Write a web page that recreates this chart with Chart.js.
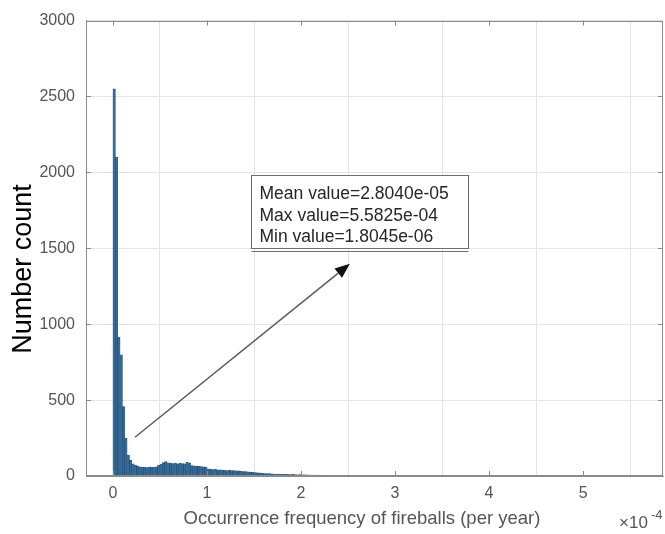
<!DOCTYPE html>
<html>
<head>
<meta charset="utf-8">
<script src="https://cdn.jsdelivr.net/npm/chart.js@4.4.1/dist/chart.umd.min.js"></script>
<style>
  html, body { margin: 0; padding: 0; background: #ffffff; }
  #wrap { width: 665px; height: 534px; }
</style>
</head>
<body>
<div id="wrap"><canvas id="c" width="665" height="534"></canvas></div>
<script>
// ---- data (x in units of 1e-4 per year) ----
const binWidth = 0.025;          // histogram bin width (×1e-4)
const counts = [
  2550, 2100, 915, 797, 457, 248, 137, 102, 80, 70, 65, 60, 58,
  57, 55, 58, 56, 57, 60,
  72, 78,
  88, 94,
  86, 84, 82, 85, 80, 83, 81, 79,
  90, 86,
  68, 66, 64, 65, 62,
  60, 59,
  46, 44, 42, 45, 41, 40,
  38, 37, 36, 38, 35, 36, 34, 33, 31,
  29, 28, 27, 26,
  23, 22, 21, 20,
  17, 16, 15, 15, 14, 13,
  12, 11, 12, 10, 11, 10, 9, 10, 9, 8, 9,
  8, 7, 7, 6, 6, 5, 6, 5, 4, 5,
  4, 4, 3, 4, 3, 3, 3, 2, 3, 2,
  3, 2, 2, 3, 2, 2, 1, 2, 1, 1, 2,
  1, 1, 2, 1, 0, 1, 1, 0, 1, 1, 0, 1, 0, 1, 1, 0, 0, 1, 0, 1,
  0, 1, 0, 0, 1, 0, 1, 0, 0, 1, 0, 0, 1, 0, 0, 0, 1, 0, 0, 1,
  0, 0, 1, 0, 0, 0, 1, 0, 0, 0, 0, 1, 0, 0, 0, 1, 0, 0, 0, 0,
  1, 0, 0, 0, 0, 1, 0, 0, 0, 1, 0, 0, 0, 0, 1, 0, 0, 1, 0, 0,
  1, 0, 1, 0, 0, 1, 0, 0, 1, 0, 1, 0, 0, 1, 0, 1, 0, 0, 1, 0,
  0, 1, 0, 1, 0, 0, 1, 0, 1, 0, 0, 0, 1
];
const xTicks = [0, 1, 2, 3, 4, 5];
const yTicks = [0, 500, 1000, 1500, 2000, 2500, 3000];
const xTitle = 'Occurrence frequency of fireballs (per year)';
const yTitle = 'Number count';
const xExponent = ['\u00d710', '-4'];
const annotationLines = ['Mean value=2.8040e-05', 'Max value=5.5825e-04', 'Min value=1.8045e-06'];
// annotation anchors in data coordinates
const boxCorners = { x1: 1.468, y1: 1980, x2: 3.777, y2: 1503 };
const arrowFrom = { x: 0.234, y: 255 };
const arrowTo = { x: 2.52, y: 1399 };

const FONT = "'Liberation Sans', Arial, Helvetica, sans-serif";
const points = counts.map((c, i) => ({ x: (i + 0.5) * binWidth, y: c }));

const decorations = {
  id: 'decorations',
  afterDatasetsDraw(chart) {
    const { ctx, chartArea: a, scales } = chart;
    const xs = scales.x, ys = scales.y;
    ctx.save();
    // frame box
    ctx.strokeStyle = '#8a8a8a';
    ctx.lineWidth = 1;
    ctx.strokeRect(Math.round(a.left) + 0.5, Math.round(a.top) + 0.5,
                   Math.round(a.right - a.left) - 1, Math.round(a.bottom - a.top) - 1);
    // inward tick marks
    ctx.beginPath();
    xTicks.forEach(v => {
      const px = Math.round(xs.getPixelForValue(v)) + 0.5;
      ctx.moveTo(px, a.bottom); ctx.lineTo(px, a.bottom - 5);
      ctx.moveTo(px, a.top); ctx.lineTo(px, a.top + 5);
    });
    yTicks.forEach(v => {
      const py = Math.round(ys.getPixelForValue(v)) + 0.5;
      ctx.moveTo(a.left, py); ctx.lineTo(a.left + 5, py);
      ctx.moveTo(a.right, py); ctx.lineTo(a.right - 5, py);
    });
    ctx.stroke();

    // arrow
    const x0 = xs.getPixelForValue(arrowFrom.x), y0 = ys.getPixelForValue(arrowFrom.y);
    const x1 = xs.getPixelForValue(arrowTo.x), y1 = ys.getPixelForValue(arrowTo.y);
    const ang = Math.atan2(y1 - y0, x1 - x0);
    const hl = 15, hw = 6;
    const bx = x1 - hl * Math.cos(ang), by = y1 - hl * Math.sin(ang);
    ctx.strokeStyle = '#5a5a5a';
    ctx.lineWidth = 1.5;
    ctx.beginPath(); ctx.moveTo(x0, y0); ctx.lineTo(bx, by); ctx.stroke();
    ctx.fillStyle = '#111';
    ctx.beginPath();
    ctx.moveTo(x1, y1);
    ctx.lineTo(bx + hw * Math.sin(ang), by - hw * Math.cos(ang));
    ctx.lineTo(bx - hw * Math.sin(ang), by + hw * Math.cos(ang));
    ctx.closePath(); ctx.fill();

    // annotation box
    const L = Math.round(xs.getPixelForValue(boxCorners.x1)) + 0.5;
    const R = Math.round(xs.getPixelForValue(boxCorners.x2)) + 0.5;
    const T = Math.round(ys.getPixelForValue(boxCorners.y1)) + 0.5;
    const B = Math.round(ys.getPixelForValue(boxCorners.y2)) + 0.5;
    ctx.fillStyle = '#ffffff';
    ctx.fillRect(L, T, R - L, B - T);
    ctx.strokeStyle = '#6e6e6e';
    ctx.lineWidth = 1;
    ctx.strokeRect(L, T, R - L, B - T);
    ctx.beginPath(); ctx.moveTo(L, B + 3); ctx.lineTo(R, B + 3); ctx.stroke();
    ctx.fillStyle = '#262626';
    ctx.font = '17.5px ' + FONT;
    ctx.textBaseline = 'middle';
    ctx.textAlign = 'left';
    annotationLines.forEach((t, i) => ctx.fillText(t, L + 8, T + 19 + i * 21.5));

    // axis titles
    ctx.fillStyle = '#555555';
    ctx.font = '18.5px ' + FONT;
    ctx.textAlign = 'center';
    ctx.textBaseline = 'middle';
    ctx.fillText(xTitle, 362, 519);
    // exponent
    ctx.textAlign = 'left';
    ctx.font = '17px ' + FONT;
    ctx.fillText(xExponent[0], 619, 523);
    ctx.font = '13px ' + FONT;
    ctx.fillText(xExponent[1], 651, 515);
    // y title
    ctx.save();
    ctx.translate(24, 269);
    ctx.rotate(-Math.PI / 2);
    ctx.fillStyle = '#000000';
    ctx.font = '27px ' + FONT;
    ctx.textAlign = 'center';
    ctx.textBaseline = 'middle';
    ctx.fillText(yTitle, 0, 0);
    ctx.restore();
    ctx.restore();
  }
};

new Chart(document.getElementById('c'), {
  type: 'bar',
  data: {
    datasets: [{
      data: points,
      backgroundColor: '#336c9a',
      borderColor: 'rgba(20,45,70,0.8)',
      borderWidth: 0.5,
      inflateAmount: 0.4,
      barPercentage: 1.0,
      categoryPercentage: 1.0,
      borderSkipped: false
    }]
  },
  options: {
    responsive: false,
    devicePixelRatio: 1,
    animation: false,
    layout: { padding: { left: 0, right: 2, top: 16, bottom: 0 } },
    plugins: { legend: { display: false }, tooltip: { enabled: false }, title: { display: false } },
    scales: {
      x: {
        type: 'linear',
        min: -0.287,
        max: 5.85,
        offset: false,
        afterBuildTicks: s => { s.ticks = xTicks.map(v => ({ value: v })); },
        afterFit: s => { s.height = 58; },
        grid: { color: '#e4e4e4', drawTicks: false },
        border: { display: true, color: '#8a8a8a' },
        ticks: { padding: 8, color: '#555555', font: { family: FONT, size: 16 }, maxRotation: 0,
                 callback: v => String(v) }
      },
      y: {
        type: 'linear',
        min: 0,
        max: 3000,
        afterBuildTicks: s => { s.ticks = yTicks.map(v => ({ value: v })); },
        afterFit: s => { s.width = 86; },
        grid: { color: '#e4e4e4', drawTicks: false },
        border: { display: true, color: '#8a8a8a' },
        ticks: { padding: 11, color: '#555555', font: { family: FONT, size: 16 },
                 callback: v => String(v) }
      }
    }
  },
  plugins: [decorations]
});
</script>
</body>
</html>
